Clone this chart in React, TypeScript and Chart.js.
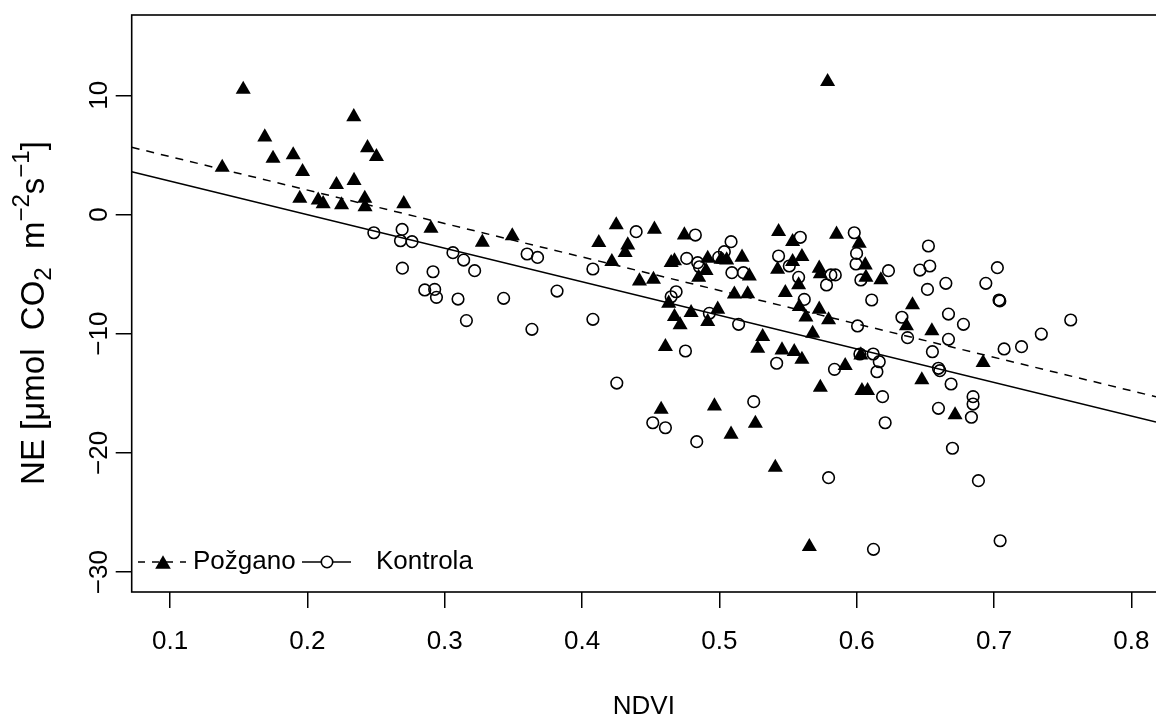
import React, { useEffect, useRef } from 'react';
import { Chart, registerables } from 'chart.js';

Chart.register(...registerables);

// ---- data ----
const seriesNames = ['Požgano', 'Kontrola'];

const pozganoPoints: [number, number][] = [
  [0.1533, 10.5], [0.2338, 8.2], [0.169, 6.5], [0.175, 4.7], [0.1897, 5.0], [0.2438, 5.6],
  [0.2503, 4.85], [0.138, 3.95], [0.1965, 3.6], [0.2212, 2.5], [0.234, 2.85], [0.1945, 1.35],
  [0.2079, 1.2], [0.2115, 0.9], [0.2249, 0.8], [0.2418, 1.35], [0.242, 0.65], [0.2702, 0.9],
  [0.29, -1.16], [0.3274, -2.33], [0.3492, -1.8], [0.4122, -2.36], [0.4249, -0.88], [0.4333, -2.56],
  [0.4314, -3.2], [0.4217, -3.96], [0.4418, -5.58], [0.4527, -1.24], [0.452, -5.44], [0.4745, -1.72],
  [0.4649, -4.04], [0.4673, -3.9], [0.4631, -7.45], [0.4673, -8.57], [0.4714, -9.27], [0.4794, -8.24],
  [0.4607, -11.09], [0.4915, -3.68], [0.4903, -4.71], [0.4849, -5.27], [0.4915, -8.99], [0.4988, -7.95],
  [0.5012, -3.76], [0.5053, -3.82], [0.5165, -3.59], [0.5218, -5.16], [0.5109, -6.69], [0.5206, -6.67],
  [0.4576, -16.35], [0.4964, -16.07], [0.5085, -18.44], [0.5262, -17.52], [0.5315, -10.25], [0.5279, -11.23],
  [0.5456, -11.37], [0.5545, -11.51], [0.5601, -12.15], [0.5431, -1.44], [0.5533, -2.28], [0.5601, -3.54],
  [0.5533, -3.96], [0.5424, -4.6], [0.548, -6.56], [0.5577, -5.91], [0.5582, -7.73], [0.563, -8.62],
  [0.5727, -7.95], [0.5795, -8.85], [0.5679, -9.97], [0.5727, -4.51], [0.5853, -1.66], [0.5735, -14.5],
  [0.5916, -12.68], [0.5735, -4.99], [0.6018, -2.42], [0.6062, -4.24], [0.6067, -5.27], [0.6176, -5.49],
  [0.603, -11.79], [0.6038, -14.78], [0.6079, -14.78], [0.6406, -7.59], [0.6362, -9.35], [0.6547, -9.77],
  [0.6474, -13.88], [0.6716, -16.82], [0.692, -12.43], [0.5407, -21.21], [0.5655, -27.87], [0.5788, 11.14],
];

const kontrolaPoints: [number, number][] = [
  [0.2484, -1.53], [0.269, -1.25], [0.2678, -2.2], [0.2762, -2.28], [0.306, -3.2], [0.3138, -3.82],
  [0.2692, -4.5], [0.2915, -4.8], [0.2855, -6.33], [0.2927, -6.28], [0.294, -6.95], [0.3097, -7.09],
  [0.3218, -4.71], [0.3158, -8.9], [0.3429, -7.03], [0.36, -3.31], [0.3676, -3.6], [0.3635, -9.63],
  [0.3818, -6.42], [0.4079, -4.57], [0.4079, -8.79], [0.4253, -14.14], [0.4394, -1.44], [0.4825, -1.72],
  [0.5085, -2.28], [0.5036, -3.12], [0.4995, -3.59], [0.4762, -3.68], [0.4842, -4.04], [0.4855, -4.38],
  [0.5091, -4.88], [0.5175, -4.88], [0.4685, -6.48], [0.4649, -6.9], [0.4927, -8.29], [0.514, -9.21],
  [0.4753, -11.45], [0.4515, -17.47], [0.4607, -17.89], [0.4835, -19.06], [0.525, -15.7], [0.5589, -1.91],
  [0.5431, -3.48], [0.5509, -4.32], [0.5577, -5.27], [0.578, -5.91], [0.5812, -5.07], [0.5844, -5.07],
  [0.5618, -7.12], [0.5417, -12.48], [0.5838, -12.99], [0.5982, -1.53], [0.5999, -3.26], [0.5995, -4.15],
  [0.603, -5.49], [0.6231, -4.71], [0.6109, -7.17], [0.6006, -9.35], [0.6329, -8.62], [0.637, -10.33],
  [0.6522, -2.64], [0.6532, -4.32], [0.646, -4.66], [0.6515, -6.28], [0.6649, -5.77], [0.6668, -8.35],
  [0.6777, -9.21], [0.6668, -10.47], [0.6551, -11.51], [0.6595, -12.9], [0.6605, -13.1], [0.6687, -14.22],
  [0.7024, -4.46], [0.694, -5.77], [0.7036, -7.17], [0.7042, -7.25], [0.7344, -10.03], [0.72, -11.09],
  [0.7073, -11.28], [0.6023, -11.7], [0.612, -11.7], [0.6164, -12.35], [0.6147, -13.19], [0.6188, -15.28],
  [0.6207, -17.47], [0.6595, -16.26], [0.6847, -15.28], [0.6847, -15.9], [0.6835, -17.01], [0.6697, -19.61],
  [0.5795, -22.08], [0.6122, -28.09], [0.6886, -22.33], [0.7044, -27.37], [0.7558, -8.85],
];

// regression lines (endpoints at the plot edges)
const lineX = [0.0721, 0.8179];
const pozganoLineY = [5.64, -15.29];
const kontrolaLineY = [3.59, -17.41];

const xRange = [0.0721, 0.8179];
const yRange = [-31.67, 16.74];
const xTicks = [0.1, 0.2, 0.3, 0.4, 0.5, 0.6, 0.7, 0.8];
const yTicks = [-30, -20, -10, 0, 10];
const xTitle = 'NDVI';
// y title pieces: [text, kind] kind: n normal, sub, sup
const yTitleParts: [string, string][] = [
  ['NE [μmol  CO', 'n'], ['2', 'sub'], ['  m', 'n'], ['−2', 'sup'], ['s', 'n'], ['−1', 'sup'], [']', 'n'],
];

const FONT = '"Liberation Sans", Arial, Helvetica, sans-serif';
const FS = 26;
const TFS = 33;

const fmt = (v: number) => String(v).replace('-', '−');

const overlayPlugin = {
  id: 'overlay',
  afterDraw(chart: any) {
    const ctx: CanvasRenderingContext2D = chart.ctx;
    const ca = chart.chartArea;
    const ys = chart.scales.y;
    ctx.save();
    // box
    ctx.strokeStyle = '#000';
    ctx.lineWidth = 1.6;
    ctx.strokeRect(ca.left, ca.top, ca.right - ca.left + 4, ca.bottom - ca.top);

    ctx.fillStyle = '#000';
    // y tick labels (rotated)
    ctx.font = `${FS}px ${FONT}`;
    ctx.textAlign = 'center';
    ctx.textBaseline = 'middle';
    for (const v of yTicks) {
      const py = ys.getPixelForValue(v);
      ctx.save();
      ctx.translate(100, py);
      ctx.rotate(-Math.PI / 2);
      ctx.fillText(fmt(v), 0, 0);
      ctx.restore();
    }

    // x title
    ctx.textBaseline = 'alphabetic';
    ctx.fillText(xTitle, (ca.left + ca.right) / 2, 714);

    // y title
    const small = Math.round(TFS * 0.72);
    const parts = yTitleParts.map(([t, k]) => {
      ctx.font = `${k === 'n' ? TFS : small}px ${FONT}`;
      return { t, k, w: ctx.measureText(t).width };
    });
    const total = parts.reduce((s, p) => s + p.w, 0);
    ctx.save();
    ctx.translate(44, 313);
    ctx.rotate(-Math.PI / 2);
    ctx.textAlign = 'left';
    let cx = -total / 2;
    for (const p of parts) {
      ctx.font = `${p.k === 'n' ? TFS : small}px ${FONT}`;
      const dy = p.k === 'sub' ? 7 : p.k === 'sup' ? -15 : 0;
      ctx.fillText(p.t, cx, dy);
      cx += p.w;
    }
    ctx.restore();

    // legend
    const ly = 562;
    ctx.font = `${FS}px ${FONT}`;
    ctx.textAlign = 'left';
    ctx.textBaseline = 'middle';
    ctx.lineWidth = 1.5;
    ctx.setLineDash([7, 7]);
    ctx.beginPath();
    ctx.moveTo(138, ly);
    ctx.lineTo(186, ly);
    ctx.stroke();
    ctx.setLineDash([]);
    const r = 9;
    const tx = 163;
    ctx.beginPath();
    ctx.moveTo(tx, ly - r * 0.75);
    ctx.lineTo(tx + r * 0.866, ly + r * 0.75);
    ctx.lineTo(tx - r * 0.866, ly + r * 0.75);
    ctx.closePath();
    ctx.fill();
    ctx.fillText(seriesNames[0], 193, ly);
    ctx.beginPath();
    ctx.moveTo(302, ly);
    ctx.lineTo(351, ly);
    ctx.stroke();
    ctx.fillStyle = '#fff';
    ctx.beginPath();
    ctx.arc(327, ly, 5.7, 0, Math.PI * 2);
    ctx.fill();
    ctx.lineWidth = 1.6;
    ctx.stroke();
    ctx.fillStyle = '#000';
    ctx.fillText(seriesNames[1], 376, ly);
    ctx.restore();
  },
};

export default function App() {
  const ref = useRef<HTMLCanvasElement | null>(null);
  useEffect(() => {
    document.body.style.margin = '0';
    const canvas = ref.current!;
    const chart = new Chart(canvas, {
      type: 'scatter',
      data: {
        datasets: [
          {
            label: seriesNames[0] + ' fit',
            type: 'line',
            data: lineX.map((x, i) => ({ x, y: pozganoLineY[i] })),
            borderColor: '#000',
            borderWidth: 1.5,
            borderDash: [8, 7],
            pointRadius: 0,
            fill: false,
          },
          {
            label: seriesNames[1] + ' fit',
            type: 'line',
            data: lineX.map((x, i) => ({ x, y: kontrolaLineY[i] })),
            borderColor: '#000',
            borderWidth: 1.5,
            pointRadius: 0,
            fill: false,
          },
          {
            label: seriesNames[0],
            data: pozganoPoints.map(([x, y]) => ({ x, y })),
            pointStyle: 'triangle',
            pointRadius: 8.7,
            backgroundColor: '#000',
            borderColor: '#000',
            borderWidth: 0,
          },
          {
            label: seriesNames[1],
            data: kontrolaPoints.map(([x, y]) => ({ x, y })),
            pointStyle: 'circle',
            pointRadius: 5.8,
            backgroundColor: 'rgba(0,0,0,0)',
            borderColor: '#000',
            borderWidth: 1.6,
          },
        ],
      },
      options: {
        animation: false,
        responsive: false,
        devicePixelRatio: 1,
        layout: { autoPadding: false, padding: { top: 15, right: 0, left: 0, bottom: 0 } },
        plugins: { legend: { display: false }, tooltip: { enabled: false } },
        scales: {
          x: {
            type: 'linear',
            position: 'bottom',
            min: xRange[0],
            max: xRange[1],
            afterBuildTicks: (s: any) => {
              s.ticks = xTicks.map((v) => ({ value: v }));
            },
            afterFit: (s: any) => {
              s.height = 123;
              s.paddingLeft = 0;
              s.paddingRight = 0;
            },
            ticks: {
              autoSkip: false,
              maxRotation: 0,
              minRotation: 0,
              padding: 18,
              color: '#000',
              font: { family: FONT, size: FS },
              callback: (v: any) => Number(v).toFixed(1),
            },
            grid: { drawOnChartArea: false, drawTicks: true, tickLength: 16, color: '#000', lineWidth: 1.5 },
            border: { display: false },
          },
          y: {
            type: 'linear',
            position: 'left',
            min: yRange[0],
            max: yRange[1],
            afterBuildTicks: (s: any) => {
              s.ticks = yTicks.map((v) => ({ value: v }));
            },
            afterFit: (s: any) => {
              s.width = 131.7;
              s.paddingTop = 0;
              s.paddingBottom = 0;
            },
            ticks: { display: false },
            grid: { drawOnChartArea: false, drawTicks: true, tickLength: 16, color: '#000', lineWidth: 1.5 },
            border: { display: false },
          },
        },
      },
      plugins: [overlayPlugin],
    });
    return () => chart.destroy();
  }, []);
  return (
    <div style={{ position: 'fixed', left: 0, top: 0, width: 1156, height: 715, background: '#fff' }}>
      <canvas ref={ref} width={1156} height={715} />
    </div>
  );
}
